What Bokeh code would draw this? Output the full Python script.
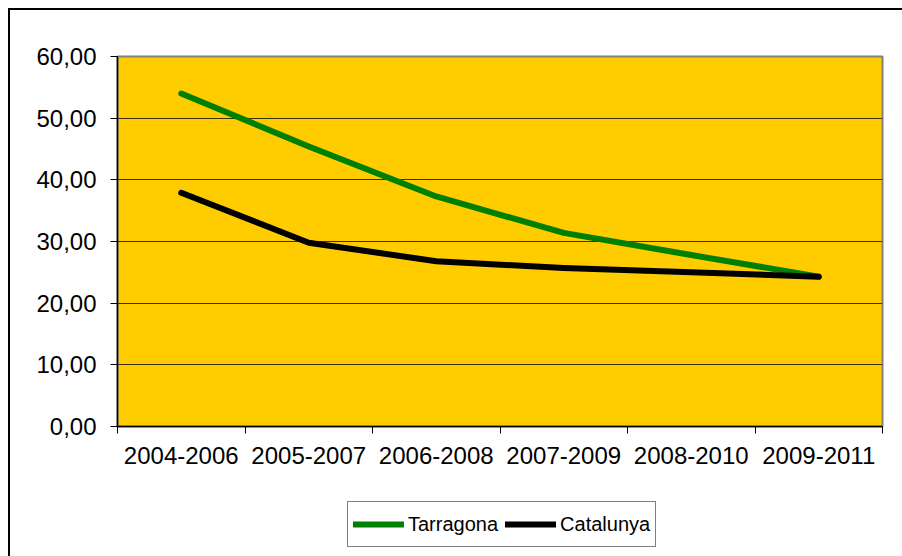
from bokeh.plotting import figure
from bokeh.layouts import column
from bokeh.models import FixedTicker, Legend, LegendItem, Range1d
from bokeh.embed import file_html
from bokeh.resources import INLINE

periods = ["2004-2006", "2005-2007", "2006-2008", "2007-2009", "2008-2010", "2009-2011"]
tarragona = [54.0, 45.4, 37.3, 31.4, 27.8, 24.3]
catalunya = [37.9, 29.8, 26.8, 25.7, 25.0, 24.3]
y_ticks = [0, 10, 20, 30, 40, 50, 60]
series_names = ["Tarragona", "Catalunya"]
series_values = [tarragona, catalunya]
series_colors = ["#008000", "black"]

FONT = "Liberation Sans"
x = [i + 0.5 for i in range(len(periods))]

p = figure(width=892, height=470, output_backend="svg", toolbar_location=None,
           x_range=Range1d(0, len(periods)), y_range=Range1d(0, 60),
           min_border_left=107, min_border_right=20, min_border_top=46, min_border_bottom=54)

p.background_fill_color = "#FFCC00"
p.border_fill_color = "white"
p.outline_line_color = "#808080"
p.outline_line_width = 2

# x axis
p.xaxis.ticker = FixedTicker(ticks=x, minor_ticks=list(range(len(periods) + 1)))
p.xaxis.major_label_overrides = {v: lab for v, lab in zip(x, periods)}
p.xaxis.major_tick_line_color = None
p.xaxis.minor_tick_line_color = "black"
p.xaxis.minor_tick_in = 0
p.xaxis.minor_tick_out = 7
p.xaxis.axis_line_color = "black"
p.xaxis.axis_line_width = 1.5
p.xaxis.major_label_text_font = FONT
p.xaxis.major_label_text_font_size = "24px"
p.xaxis.major_label_text_color = "black"
p.xaxis.major_label_standoff = 13
p.xgrid.grid_line_color = None

# y axis
p.yaxis.ticker = FixedTicker(ticks=y_ticks)
p.yaxis.major_label_overrides = {v: f"{v:.2f}".replace(".", ",") for v in y_ticks}
p.yaxis.minor_tick_line_color = None
p.yaxis.major_tick_in = 0
p.yaxis.major_tick_out = 7
p.yaxis.major_tick_line_color = "black"
p.yaxis.axis_line_color = "black"
p.yaxis.axis_line_width = 1.5
p.yaxis.major_label_text_font = FONT
p.yaxis.major_label_text_font_size = "24px"
p.yaxis.major_label_text_color = "black"
p.yaxis.major_label_standoff = 14
p.ygrid.grid_line_color = "#3a3000"
p.ygrid.grid_line_width = 1.2

for vals, col in zip(series_values, series_colors):
    p.line(x, vals, line_color=col, line_width=6, line_cap="round", line_join="round")

# legend strip below the chart (series drawn off-range there, only their legend glyphs show)
lg = figure(width=892, height=76, output_backend="svg", toolbar_location=None,
            x_axis_type=None, y_axis_type=None, min_border=0,
            x_range=Range1d(-100, -99), y_range=Range1d(-100, -99))
lg.outline_line_color = None
lg.grid.grid_line_color = None
lg.background_fill_color = "white"
lg.border_fill_color = "white"
items = []
for name, vals, col in zip(series_names, series_values, series_colors):
    r = lg.line(x, vals, line_color=col, line_width=6, line_cap="round")
    items.append(LegendItem(label=name, renderers=[r]))

legend = Legend(items=items, orientation="horizontal", location=(230, 9))
legend.label_text_font = FONT
legend.label_text_font_size = "20px"
legend.label_text_color = "black"
legend.glyph_width = 51
legend.glyph_height = 34
legend.label_standoff = 4
legend.spacing = 7
legend.padding = 5
legend.margin = 0
legend.border_line_color = "black"
legend.border_line_width = 1
legend.background_fill_color = "white"
legend.background_fill_alpha = 1
lg.add_layout(legend, "center")

layout = column(p, lg, spacing=0)
layout.styles = {"border-left": "2px solid black", "border-top": "2px solid black",
                 "margin-left": "8px", "margin-top": "8px"}

open("out.html", "w").write(file_html(layout, INLINE))
